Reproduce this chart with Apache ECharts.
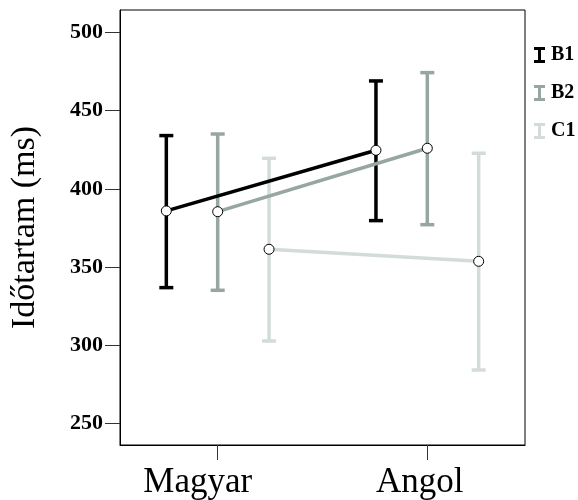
<!DOCTYPE html>
<html><head><meta charset="utf-8">
<script src="https://cdn.jsdelivr.net/npm/echarts@6/dist/echarts.min.js"></script>
<style>html,body{margin:0;padding:0;background:#fff}#c{width:578px;height:500px}</style>
</head><body><div id="c"></div>
<script>
const categories = ['Magyar', 'Angol'];
const groups = ['B1', 'B2', 'C1'];
const meanB1 = [385.9, 424.6];
const lowB1 = [336.9, 379.7];
const highB1 = [434.0, 468.9];
const meanB2 = [385.4, 425.9];
const lowB2 = [335.2, 377.1];
const highB2 = [435.0, 474.2];
const meanC1 = [361.4, 353.7];
const lowC1 = [302.8, 284.3];
const highC1 = [419.5, 422.7];
const yTicks = [250, 300, 350, 400, 450, 500];

const means = [meanB1, meanB2, meanC1];
const lows = [lowB1, lowB2, lowC1];
const highs = [highB1, highB2, highC1];
const colors = ['#000000', '#97a6a2', '#d3dcd9'];
const dodge = [-0.245, 0, 0.245];
const FONT = '"Liberation Serif", "Times New Roman", serif';

const chart = echarts.init(document.getElementById('c'), null, {renderer: 'canvas'});
const series = [];
groups.forEach((g, i) => {
  series.push({
    name: g, type: 'custom',
    itemStyle: {color: colors[i]},
    z: 2,
    renderItem: (params, api) => {
      const x = api.value(0), lo = api.value(1), hi = api.value(2);
      const pLo = api.coord([x, lo]), pHi = api.coord([x, hi]);
      const w = 7;
      const style = {stroke: colors[i], lineWidth: 3.5, fill: null};
      return {type: 'group', children: [
        {type: 'line', shape: {x1: pLo[0], y1: pLo[1], x2: pHi[0], y2: pHi[1]}, style: style},
        {type: 'line', shape: {x1: pLo[0] - w, y1: pLo[1], x2: pLo[0] + w, y2: pLo[1]}, style: style},
        {type: 'line', shape: {x1: pHi[0] - w, y1: pHi[1], x2: pHi[0] + w, y2: pHi[1]}, style: style}
      ]};
    },
    data: categories.map((c, k) => [k + dodge[i], lows[i][k], highs[i][k]])
  });
  series.push({
    name: g + ' átlag', type: 'line',
    data: categories.map((c, k) => [k + dodge[i], means[i][k]]),
    symbol: 'circle', symbolSize: 10,
    lineStyle: {color: colors[i], width: 3.5},
    itemStyle: {color: '#ffffff', borderColor: '#000000', borderWidth: 1},
    z: 3
  });
});

const xLabelStyle = {fontFamily: FONT, fontSize: 35, color: '#000'};
chart.setOption({
  animation: false,
  backgroundColor: '#ffffff',
  grid: {left: 120, top: 10, right: 53, bottom: 55, show: true, borderColor: '#000000', borderWidth: 1, backgroundColor: 'transparent'},
  legend: {
    data: groups,
    orient: 'vertical', left: 529, top: 40,
    itemWidth: 11, itemHeight: 16, itemGap: 18,
    icon: 'path://M0,0H11V3H7V13H11V16H0V13H4V3H0Z',
    textStyle: {fontFamily: FONT, fontSize: 20, fontWeight: 'bold', color: '#000', padding: [0, 0, 0, 1]}
  },
  xAxis: {
    type: 'value', min: -0.466, max: 1.466,
    axisLine: {show: true, onZero: false, lineStyle: {color: '#000'}},
    axisTick: {show: true, inside: false, length: 15, lineStyle: {color: '#333'}, customValues: [0, 1]},
    axisLabel: {
      customValues: [0, 1],
      formatter: v => (Math.round(v) === 0 ? '{m|' : '{a|') + (categories[Math.round(v)] || '') + '}',
      color: '#000', margin: 20,
      rich: {
        m: Object.assign({padding: [0, 40, 0, 0]}, xLabelStyle),
        a: Object.assign({padding: [0, 15, 0, 0]}, xLabelStyle)
      }
    },
    splitLine: {show: false}
  },
  yAxis: {
    type: 'value', min: 236.4, max: 514.2,
    name: 'Időtartam (ms)', nameLocation: 'middle', nameGap: 78,
    nameTextStyle: {fontFamily: FONT, fontSize: 34, color: '#000'},
    axisLine: {show: true, onZero: false, lineStyle: {color: '#000'}},
    axisTick: {show: true, inside: false, length: 15, lineStyle: {color: '#333'}, customValues: yTicks},
    axisLabel: {customValues: yTicks, fontFamily: FONT, fontSize: 22, fontWeight: 'bold', color: '#000', margin: 17},
    splitLine: {show: false}
  },
  series: series
});
</script></body></html>
